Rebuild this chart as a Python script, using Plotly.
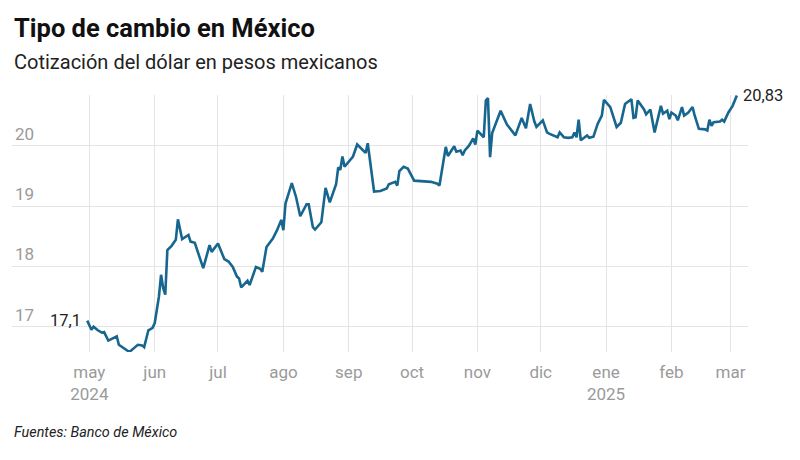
import plotly.graph_objects as go

dates = [
    "2024-04-30", "2024-05-02", "2024-05-03", "2024-05-05", "2024-05-07", "2024-05-08",
    "2024-05-10", "2024-05-12", "2024-05-14", "2024-05-15", "2024-05-17", "2024-05-19",
    "2024-05-20", "2024-05-22", "2024-05-24", "2024-05-26", "2024-05-27", "2024-05-29",
    "2024-05-31", "2024-06-01", "2024-06-02", "2024-06-03", "2024-06-04", "2024-06-05",
    "2024-06-06", "2024-06-07", "2024-06-09", "2024-06-11", "2024-06-12", "2024-06-14",
    "2024-06-17", "2024-06-18", "2024-06-20", "2024-06-22", "2024-06-24", "2024-06-27",
    "2024-06-28", "2024-07-01", "2024-07-04", "2024-07-06", "2024-07-08", "2024-07-10",
    "2024-07-11", "2024-07-12", "2024-07-15", "2024-07-16", "2024-07-19", "2024-07-21",
    "2024-07-22", "2024-07-24", "2024-07-27", "2024-07-29", "2024-07-31", "2024-08-01",
    "2024-08-02", "2024-08-05", "2024-08-07", "2024-08-09", "2024-08-12", "2024-08-13",
    "2024-08-15", "2024-08-16", "2024-08-19", "2024-08-21", "2024-08-23", "2024-08-26",
    "2024-08-27", "2024-08-28", "2024-08-29", "2024-08-30", "2024-09-03", "2024-09-05",
    "2024-09-09", "2024-09-10", "2024-09-13", "2024-09-16", "2024-09-18", "2024-09-19",
    "2024-09-20", "2024-09-23", "2024-09-24", "2024-09-25", "2024-09-27", "2024-09-29",
    "2024-10-02", "2024-10-05", "2024-10-10", "2024-10-13", "2024-10-14", "2024-10-17",
    "2024-10-18", "2024-10-21", "2024-10-22", "2024-10-24", "2024-10-25", "2024-10-26",
    "2024-10-28", "2024-10-30", "2024-10-31", "2024-11-01", "2024-11-04", "2024-11-05",
    "2024-11-06", "2024-11-07", "2024-11-08", "2024-11-12", "2024-11-15", "2024-11-19",
    "2024-11-22", "2024-11-24", "2024-11-26", "2024-11-28", "2024-11-29", "2024-12-02",
    "2024-12-04", "2024-12-05", "2024-12-07", "2024-12-09", "2024-12-10", "2024-12-12",
    "2024-12-14", "2024-12-16", "2024-12-17", "2024-12-18", "2024-12-19", "2024-12-20",
    "2024-12-23", "2024-12-24", "2024-12-26", "2024-12-28", "2024-12-30", "2024-12-31",
    "2025-01-03", "2025-01-06", "2025-01-08", "2025-01-10", "2025-01-13", "2025-01-14",
    "2025-01-15", "2025-01-16", "2025-01-19", "2025-01-20", "2025-01-22", "2025-01-23",
    "2025-01-24", "2025-01-27", "2025-01-28", "2025-01-30", "2025-01-31", "2025-02-01",
    "2025-02-03", "2025-02-04", "2025-02-06", "2025-02-07", "2025-02-09", "2025-02-11",
    "2025-02-12", "2025-02-14", "2025-02-17", "2025-02-18", "2025-02-19", "2025-02-20",
    "2025-02-21", "2025-02-24", "2025-02-25", "2025-02-26", "2025-02-28", "2025-03-02",
    "2025-03-03", "2025-03-04",
]

rates = [
    17.10, 16.95, 17.00, 16.94, 16.90, 16.91,
    16.77, 16.80, 16.84, 16.70, 16.65, 16.61,
    16.58, 16.64, 16.70, 16.69, 16.66, 16.94,
    16.98, 17.06, 17.28, 17.50, 17.86, 17.64,
    17.53, 18.27, 18.34, 18.44, 18.78, 18.45,
    18.52, 18.41, 18.39, 18.16, 17.97, 18.35,
    18.24, 18.38, 18.12, 18.08, 17.99, 17.83,
    17.80, 17.65, 17.76, 17.69, 17.99, 17.96,
    17.91, 18.32, 18.46, 18.60, 18.77, 18.60,
    19.04, 19.38, 19.15, 18.83, 19.03, 19.03,
    18.65, 18.61, 18.73, 19.30, 19.06, 19.36,
    19.64, 19.60, 19.82, 19.65, 19.82, 20.02,
    19.88, 20.04, 19.24, 19.25, 19.28, 19.29,
    19.36, 19.40, 19.34, 19.58, 19.65, 19.62,
    19.42, 19.41, 19.40, 19.37, 19.34, 19.98,
    19.83, 19.99, 19.90, 19.92, 19.84, 19.92,
    20.00, 20.12, 20.02, 20.25, 20.14, 20.75,
    20.79, 19.81, 20.21, 20.58, 20.35, 20.17,
    20.46, 20.29, 20.69, 20.40, 20.31, 20.42,
    20.22, 20.20, 20.17, 20.14, 20.22, 20.14,
    20.13, 20.14, 20.22, 20.14, 20.43, 20.09,
    20.17, 20.13, 20.15, 20.36, 20.50, 20.76,
    20.64, 20.31, 20.38, 20.69, 20.77, 20.46,
    20.47, 20.75, 20.60, 20.52, 20.60, 20.42,
    20.22, 20.66, 20.53, 20.58, 20.44, 20.55,
    20.50, 20.42, 20.64, 20.50, 20.55, 20.64,
    20.50, 20.28, 20.27, 20.25, 20.43, 20.33,
    20.39, 20.40, 20.43, 20.40, 20.55, 20.66,
    20.74, 20.83,
]

month_ticks = ["2024-05-01", "2024-06-01", "2024-07-01", "2024-08-01", "2024-09-01",
               "2024-10-01", "2024-11-01", "2024-12-01", "2025-01-01", "2025-02-01",
               "2025-03-01"]
month_labels = ["may<br>2024", "jun", "jul", "ago", "sep", "oct", "nov", "dic",
                "ene<br>2025", "feb", "mar"]
y_ticks = [17, 18, 19, 20]
y_labels = ["17", "18", "19", "20"]

title = "Tipo de cambio en México"
subtitle = "Cotización del dólar en pesos mexicanos"
source = "Fuentes: Banco de México"

LINE = "#17668f"
GRID = "#e4e4e4"
TICK = "#9a9a9a"
FONT = "Roboto, 'Liberation Sans', sans-serif"


def fmt(v):
    return f"{v:g}".replace(".", ",")


fig = go.Figure()
fig.add_trace(go.Scatter(
    x=dates, y=rates, mode="lines",
    line=dict(color=LINE, width=2.6),
    hoverinfo="skip", showlegend=False,
))

# the page body adds an 8px offset, so the figure is 792x452 with adjusted margins
fig.update_layout(
    width=792, height=452,
    margin=dict(l=4, r=52, t=87, b=108),
    paper_bgcolor="white", plot_bgcolor="white",
    font=dict(family=FONT, color="#222"),
    showlegend=False,
    xaxis=dict(
        range=["2024-03-25 08:00", "2025-03-09 07:00"],
        tickmode="array", tickvals=month_ticks, ticktext=month_labels,
        showgrid=True, gridcolor=GRID, gridwidth=1,
        showline=False, zeroline=False, ticks="",
        tickfont=dict(size=17, color=TICK, family=FONT),
        ticklabelstandoff=8,
    ),
    yaxis=dict(
        range=[16.58, 20.84],
        tickmode="array", tickvals=y_ticks, ticktext=y_labels,
        showgrid=True, gridcolor=GRID, gridwidth=1,
        showline=False, zeroline=False, ticks="",
        ticklabelposition="inside top",
        tickfont=dict(size=17, color=TICK, family=FONT),
    ),
    annotations=[
        dict(text=f"<b>{title}</b>", xref="paper", yref="paper", x=0, y=1.2607,
             xanchor="left", yanchor="middle", showarrow=False, xshift=0,
             font=dict(size=25.5, color="#111", family=FONT)),
        dict(text=subtitle, xref="paper", yref="paper", x=0, y=1.128,
             xanchor="left", yanchor="middle", showarrow=False, xshift=0,
             font=dict(size=20, color="#222", family=FONT)),
        dict(text=f"<i>{source}</i>", xref="paper", yref="paper", x=0, y=-0.315,
             xanchor="left", yanchor="middle", showarrow=False, xshift=0,
             font=dict(size=14.4, color="#222", family=FONT)),
        dict(text=fmt(rates[0]), x=dates[0], y=rates[0], xref="x", yref="y",
             xanchor="right", yanchor="middle", showarrow=False, xshift=-4,
             font=dict(size=16.5, color="#222", family=FONT)),
        dict(text=fmt(rates[-1]), x=dates[-1], y=rates[-1], xref="x", yref="y",
             xanchor="left", yanchor="middle", showarrow=False, xshift=4,
             font=dict(size=16.5, color="#222", family=FONT)),
    ],
)

fig.write_html("out.html")
